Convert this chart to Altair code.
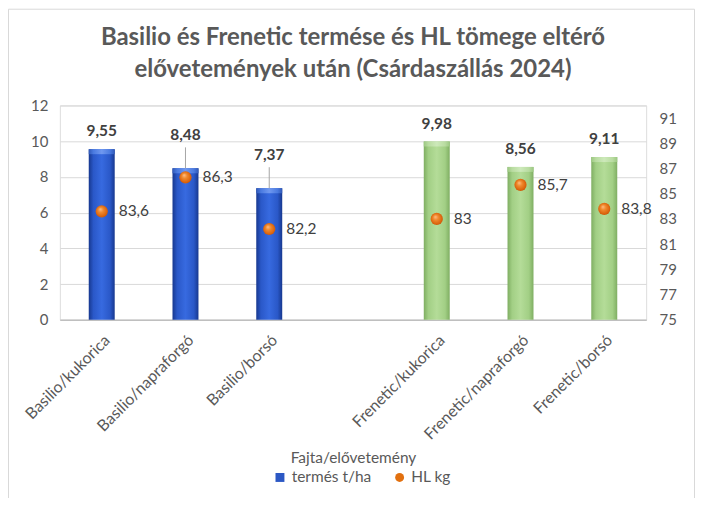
import altair as alt
import pandas as pd

# ---------------- data ----------------
categories = ["Basilio/kukorica", "Basilio/napraforgó", "Basilio/borsó",
              "Frenetic/kukorica", "Frenetic/napraforgó", "Frenetic/borsó"]
varieties = ["Basilio", "Basilio", "Basilio", "Frenetic", "Frenetic", "Frenetic"]
yield_t = [9.55, 8.48, 7.37, 9.98, 8.56, 9.11]
yield_labels = ["9,55", "8,48", "7,37", "9,98", "8,56", "9,11"]
hl_kg = [83.6, 86.3, 82.2, 83.0, 85.7, 83.8]
hl_labels = ["83,6", "86,3", "82,2", "83", "85,7", "83,8"]
label_raised = [False, True, True, False, False, False]
x_domain = categories[:3] + [" "] + categories[3:]
left_ticks = [0, 2, 4, 6, 8, 10, 12]
right_ticks = [75, 77, 79, 81, 83, 85, 87, 89, 91]
legend_items = ["termés t/ha", "HL kg"]

df = pd.DataFrame({
    "cat": categories, "var": varieties, "yield": yield_t, "ylbl": yield_labels,
    "hl": hl_kg, "hlbl": hl_labels, "raised": label_raised,
})

FONT = "Lato"
GRAY = "#595959"
DARK = "#404040"

title_lines = ["Basilio és Frenetic termése és HL tömege eltérő",
               "elővetemények után (Csárdaszállás 2024)"]

# ---------------- encodings ----------------
x_enc = alt.X(
    "cat:N", sort=x_domain,
    scale=alt.Scale(domain=x_domain, paddingInner=0.69, paddingOuter=0.345),
    axis=alt.Axis(
        labelAngle=-45, labelFontSize=16, labelColor=GRAY, labelFont=FONT,
        ticks=False, domainColor="#BFBFBF", domainWidth=1.5, labelPadding=12,
        title="Fajta/elővetemény", titleFontSize=15.5, titleFont=FONT,
        titleFontWeight="normal", titleColor=GRAY, titlePadding=8,
    ),
)

y_left = alt.Y(
    "yield:Q",
    scale=alt.Scale(domain=[0, 12], nice=False),
    axis=alt.Axis(values=left_ticks, labelFontSize=15, labelColor=GRAY, labelFont=FONT,
                  domain=False, ticks=False, gridColor="#D9D9D9", labelPadding=12,
                  title=None),
)

y_right = alt.Y(
    "hl:Q",
    scale=alt.Scale(domain=[75, 92], nice=False, zero=False),
    axis=alt.Axis(orient="right", values=right_ticks, labelFontSize=15, labelColor=GRAY,
                  labelFont=FONT, domain=False, ticks=False, grid=False, labelPadding=13,
                  title=None),
)


def lin_grad(edge, mid, center):
    return alt.Gradient(
        gradient="linear", x1=0, x2=1, y1=0, y2=0,
        stops=[alt.GradientStop(offset=0, color=edge),
               alt.GradientStop(offset=0.18, color=mid),
               alt.GradientStop(offset=0.5, color=center),
               alt.GradientStop(offset=0.82, color=mid),
               alt.GradientStop(offset=1, color=edge)],
    )


blue_grad = lin_grad("#17388F", "#2A58C8", "#376AE0")
green_grad = lin_grad("#7FAE62", "#A2CF85", "#B4DC98")
blue_top = lin_grad("#3059B8", "#4A7AE0", "#6F98F0")
green_top = lin_grad("#9CC882", "#B9DCA1", "#CDE9BA")

orange_grad = alt.Gradient(
    gradient="radial", x1=0.38, y1=0.32, r1=0, x2=0.5, y2=0.5, r2=0.6,
    stops=[alt.GradientStop(offset=0, color="#FFC08A"),
           alt.GradientStop(offset=0.35, color="#F08A2E"),
           alt.GradientStop(offset=0.8, color="#D9600A"),
           alt.GradientStop(offset=1, color="#A84A08")],
)

base = alt.Chart(df)

bars_b = base.transform_filter(alt.datum.var == "Basilio").mark_bar(fill=blue_grad).encode(x=x_enc, y=y_left)
bars_f = base.transform_filter(alt.datum.var == "Frenetic").mark_bar(fill=green_grad).encode(x=x_enc, y=y_left)
top_b = base.transform_filter(alt.datum.var == "Basilio").mark_bar(fill=blue_top, y2Offset=5).encode(
    x=x_enc, y=y_left, y2=alt.Y2("yield:Q"))
top_f = base.transform_filter(alt.datum.var == "Frenetic").mark_bar(fill=green_top, y2Offset=5).encode(
    x=x_enc, y=y_left, y2=alt.Y2("yield:Q"))

lbl_normal = base.transform_filter(alt.datum.raised == False).mark_text(
    dy=-18, baseline="middle", fontSize=15.5, fontWeight="bold", color=DARK, font=FONT
).encode(x=x_enc, y=y_left, text="ylbl:N")
lbl_raised = base.transform_filter(alt.datum.raised == True).mark_text(
    dy=-33, baseline="middle", fontSize=15.5, fontWeight="bold", color=DARK, font=FONT
).encode(x=x_enc, y=y_left, text="ylbl:N")
leaders = base.transform_filter(alt.datum.raised == True).mark_rule(
    color="#A6A6A6", strokeWidth=1, y2Offset=-21
).encode(x=x_enc, y=y_left, y2=alt.Y2("yield:Q"))

left_layer = alt.layer(bars_b, bars_f, top_b, top_f, leaders, lbl_normal, lbl_raised)

points = base.mark_circle(size=150, fill=orange_grad, opacity=1).encode(x=x_enc, y=y_right)
pt_labels = base.mark_text(align="left", baseline="middle", dx=17, fontSize=15.5,
                           color=DARK, font=FONT).encode(x=x_enc, y=y_right, text="hlbl:N")
right_layer = alt.layer(points, pt_labels)

legend_df = pd.DataFrame({"series": legend_items})
leg = alt.Legend(orient="none", legendX=213, legendY=365, direction="horizontal", title=None,
                 labelFontSize=15.5, labelColor=GRAY, labelFont=FONT, symbolOpacity=1,
                 symbolSize=80, columnPadding=20, symbolStrokeWidth=0)
legend_layer = alt.Chart(legend_df).mark_point(filled=True, opacity=0).encode(
    x=alt.value(0), y=alt.value(0),
    color=alt.Color("series:N", sort=legend_items,
                    scale=alt.Scale(domain=legend_items, range=["#2C58C4", "#E2700F"]), legend=leg),
    shape=alt.Shape("series:N", sort=legend_items,
                    scale=alt.Scale(domain=legend_items, range=["square", "circle"]), legend=leg),
)

frame = alt.Chart(pd.DataFrame({"f": [0]})).mark_rect(fill=None, stroke="#D9D9D9", strokeWidth=1).encode(
    x=alt.value(-51.5), x2=alt.value(636.5), y=alt.value(-96.5), y2=alt.value(420)
)

chart = alt.layer(frame, left_layer, right_layer, legend_layer).resolve_scale(
    y="independent"
).properties(
    width=588, height=215,
    autosize=alt.AutoSizeParams(type="none"),
    padding={"left": 52, "top": 97, "right": 49, "bottom": 178},
    title=alt.TitleParams(text=title_lines, fontSize=24, font=FONT, fontWeight="bold",
                          color=GRAY, anchor="middle", frame="group", lineHeight=32, offset=-73),
).configure_view(stroke=None).configure(background="white")

chart.save("out.html", embed_options={"renderer": "svg", "actions": False})
